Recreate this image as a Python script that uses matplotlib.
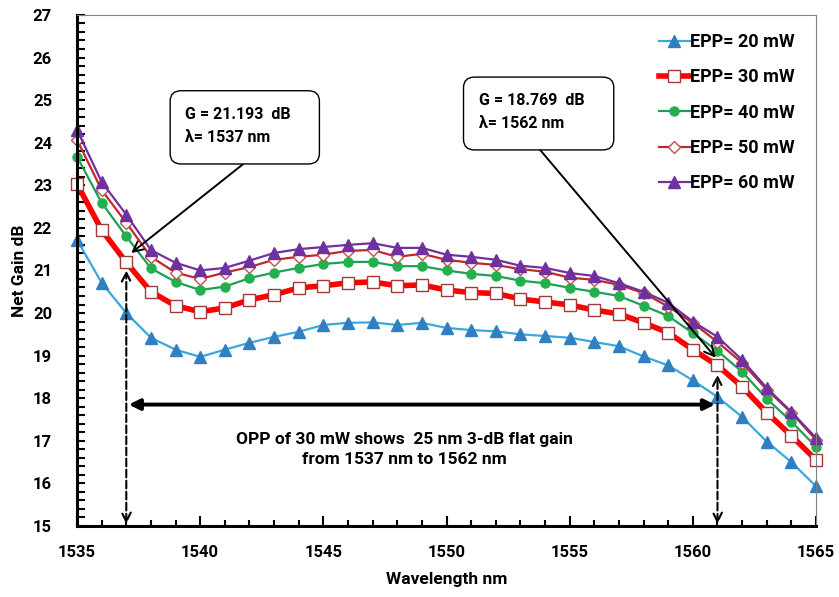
import matplotlib
matplotlib.use("Agg")
import matplotlib.pyplot as plt
import numpy as np
from matplotlib.ticker import MultipleLocator
from matplotlib.patches import FancyBboxPatch

plt.rcParams['font.family'] = ['Roboto', 'DejaVu Sans']
plt.rcParams['font.weight'] = 'bold'

# wavelength grid (nm)
wl = np.arange(1535, 1566)

# net gain (dB), one value per nm
g20 = [21.72, 20.71, 20.00, 19.42, 19.14, 18.97, 19.14, 19.30, 19.44, 19.56,
       19.72, 19.77, 19.78, 19.72, 19.77, 19.65, 19.60, 19.57, 19.50, 19.46,
       19.42, 19.32, 19.22, 18.98, 18.77, 18.42, 18.03, 17.56, 16.98, 16.50, 15.93]
g30 = [23.03, 21.95, 21.19, 20.50, 20.17, 20.03, 20.12, 20.31, 20.43, 20.59,
       20.64, 20.71, 20.73, 20.64, 20.66, 20.54, 20.48, 20.46, 20.33, 20.26,
       20.19, 20.07, 19.98, 19.77, 19.54, 19.14, 18.77, 18.27, 17.66, 17.12, 16.55]
g40 = [23.67, 22.59, 21.80, 21.05, 20.73, 20.54, 20.62, 20.82, 20.95, 21.06,
       21.15, 21.20, 21.20, 21.10, 21.10, 21.00, 20.92, 20.87, 20.76, 20.70,
       20.59, 20.50, 20.40, 20.17, 19.93, 19.53, 19.11, 18.62, 17.99, 17.45, 16.86]
g50 = [24.07, 22.89, 22.12, 21.32, 20.95, 20.80, 20.95, 21.08, 21.25, 21.32,
       21.37, 21.46, 21.48, 21.32, 21.39, 21.25, 21.18, 21.13, 21.03, 20.97,
       20.83, 20.78, 20.66, 20.47, 20.15, 19.77, 19.32, 18.83, 18.20, 17.66, 17.02]
g60 = [24.30, 23.08, 22.31, 21.48, 21.18, 21.00, 21.06, 21.23, 21.41, 21.50,
       21.55, 21.60, 21.64, 21.53, 21.53, 21.37, 21.32, 21.25, 21.11, 21.06,
       20.94, 20.87, 20.70, 20.50, 20.24, 19.80, 19.44, 18.90, 18.24, 17.68, 17.07]

labels = ["EPP= 20 mW", "EPP= 30 mW", "EPP= 40 mW", "EPP= 50 mW", "EPP= 60 mW"]

fig = plt.figure(figsize=(8.39, 5.97), dpi=100)
ax = fig.add_axes([0.0918, 0.119, 0.8808, 0.856])

ax.plot(wl, g20, color='#38a8df', lw=1.6, marker='^', ms=8.5, clip_on=False,
        mfc='#2f7fc1', mec='#2f7fc1', label=labels[0])
ax.plot(wl, g30, color='#ff0000', lw=4, marker='s', ms=9, clip_on=False,
        mfc='white', mec='#a33a3a', mew=1.0, label=labels[1])
ax.plot(wl, g40, color='#1e9e58', lw=1.6, marker='o', ms=6.5, clip_on=False,
        mfc='#22b04c', mec='#22b04c', label=labels[2])
ax.plot(wl, g50, color='#c0282a', lw=1.6, marker='D', ms=6.5, clip_on=False,
        mfc='white', mec='#c0504d', mew=1.0, label=labels[3])
ax.plot(wl, g60, color='#7030a0', lw=1.6, marker='^', ms=8.5, clip_on=False,
        mfc='#7030a0', mec='#7030a0', label=labels[4])

ax.set_xlim(1535, 1565)
ax.set_ylim(15, 27)
ax.xaxis.set_major_locator(MultipleLocator(5))
ax.xaxis.set_minor_locator(MultipleLocator(1))
ax.yaxis.set_major_locator(MultipleLocator(1))
ax.yaxis.set_minor_locator(MultipleLocator(0.2))
ax.tick_params(axis='both', which='both', direction='in', width=1.5, labelsize=12)
ax.tick_params(axis='x', which='major', length=7, pad=14)
ax.tick_params(axis='x', which='minor', length=4)
ax.tick_params(axis='y', which='major', length=6, pad=18)
ax.tick_params(axis='y', which='minor', length=6)
for t in ax.get_xticklabels() + ax.get_yticklabels():
    t.set_fontweight('bold')

ax.spines['left'].set_linewidth(2.2)
ax.spines['bottom'].set_linewidth(2.2)
ax.spines['top'].set_color('#808080')
ax.spines['right'].set_color('#808080')

ax.set_xlabel("Wavelength nm", fontsize=12.5, fontweight='bold', labelpad=8)
ax.set_ylabel("Net Gain dB", fontsize=12.5, fontweight='bold', labelpad=4)

leg = ax.legend(loc='upper right', frameon=False, fontsize=13, handlelength=1.7,
                handletextpad=0.0, labelspacing=0.96, borderaxespad=0.6,
                bbox_to_anchor=(0.995, 1.0))
for t in leg.get_texts():
    t.set_fontweight('bold')

# callout boxes with arrows
for (x0, y0, x1, y1) in [(1538.78, 23.50, 1544.84, 25.22), (1550.69, 23.83, 1556.79, 25.54)]:
    ax.add_patch(FancyBboxPatch((x0, y0), x1 - x0, y1 - y0,
                                boxstyle='round,pad=0,rounding_size=0.45',
                                mutation_aspect=0.55,
                                fc='white', ec='black', lw=1.0, zorder=4))
ax.text(1539.4, 24.40, "G = 21.193  dB\n\u03bb= 1537 nm", fontsize=11.5, fontweight='bold',
        va='center', ha='left', linespacing=1.65, zorder=5)
ax.text(1551.3, 24.72, "G = 18.769  dB\n\u03bb= 1562 nm", fontsize=11.5, fontweight='bold',
        va='center', ha='left', linespacing=1.65, zorder=5)
ax.annotate("", xy=(1537.2, 21.41), xytext=(1541.75, 23.5),
            arrowprops=dict(arrowstyle='->', lw=1.4, color='black',
                            mutation_scale=18, shrinkA=0, shrinkB=0))
ax.annotate("", xy=(1560.93, 18.95), xytext=(1553.8, 23.83),
            arrowprops=dict(arrowstyle='->', lw=1.4, color='black',
                            mutation_scale=18, shrinkA=0, shrinkB=0))

# flat gain band
ax.annotate("", xy=(1537.1, 17.85), xytext=(1560.9, 17.85),
            arrowprops=dict(arrowstyle='<|-|>', lw=2.8, color='black',
                            mutation_scale=16, shrinkA=0, shrinkB=0))
ax.text(1548.3, 16.8, "OPP of 30 mW shows  25 nm 3-dB flat gain\nfrom 1537 nm to 1562 nm",
        ha='center', va='center', fontsize=12.5, fontweight='bold', linespacing=1.45)

# dashed vertical markers
for xv, ytop in [(1537, 21.0), (1561, 18.55)]:
    ax.annotate("", xy=(xv, ytop), xytext=(xv, 15.05),
                arrowprops=dict(arrowstyle='<->', lw=1.5, color='black', ls='--',
                                mutation_scale=16, shrinkA=0, shrinkB=0))

fig.savefig("out.png", dpi=100)
